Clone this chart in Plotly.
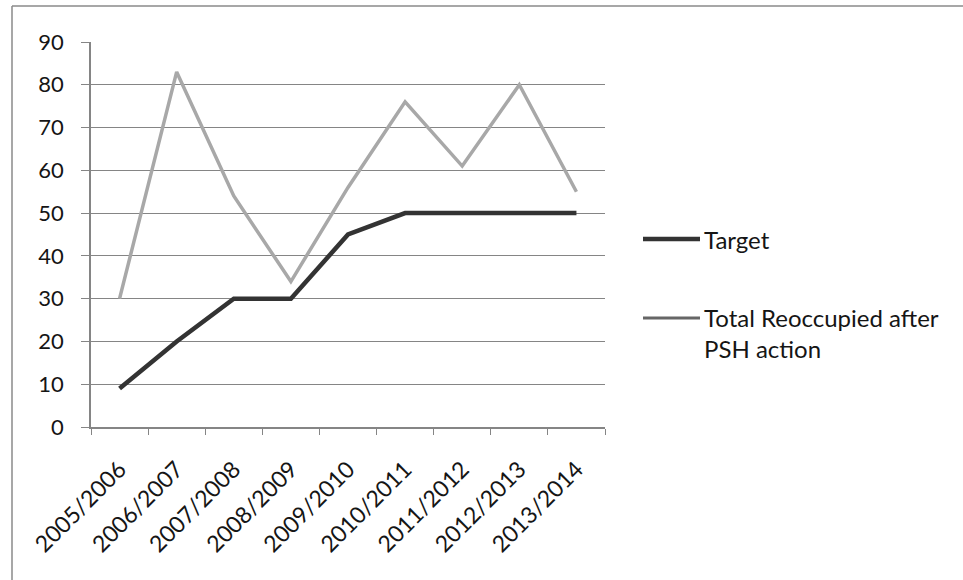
import plotly.graph_objects as go

categories = ["2005/2006", "2006/2007", "2007/2008", "2008/2009", "2009/2010",
              "2010/2011", "2011/2012", "2012/2013", "2013/2014"]
target = [9, 20, 30, 30, 45, 50, 50, 50, 50]
total_reoccupied = [30, 83, 54, 34, 56, 76, 61, 80, 55]
y_ticks = [0, 10, 20, 30, 40, 50, 60, 70, 80, 90]
series_names = ["Target", "Total Reoccupied after<br>PSH action"]

W, H = 963, 580
L, R, T, B = 91, 605, 42, 427  # plot area in pixels


def px(x):
    return (x - L) / (R - L)


def py(y):
    return (B - y) / (B - T)


FONT = "Lato"
TXT = "#151515"
GRID = "#858585"
C_TARGET = "#333333"
C_TOTAL = "#a8a8a8"

fig = go.Figure()
fig.add_trace(go.Scatter(
    x=categories, y=target, mode="lines", name=series_names[0],
    line=dict(color=C_TARGET, width=4.5), showlegend=False))
fig.add_trace(go.Scatter(
    x=categories, y=total_reoccupied, mode="lines", name=series_names[1],
    line=dict(color=C_TOTAL, width=3.5), showlegend=False))

# hand-placed legend (Excel style: long sample line, text to the right)
legend_rows = [(series_names[0], C_TARGET, 4.5, 239, 239),
               (series_names[1], "#666666", 3, 318, 333)]
shapes = [
    dict(type="line", xref="paper", yref="paper", x0=px(12), x1=px(963),
         y0=py(6), y1=py(6), line=dict(color="#8a8a8a", width=1.5)),
    dict(type="line", xref="paper", yref="paper", x0=px(12), x1=px(12),
         y0=py(6), y1=py(580), line=dict(color="#8a8a8a", width=1.5)),
]
annotations = []
for name, col, wid, ly, ty in legend_rows:
    shapes.append(dict(type="line", xref="paper", yref="paper",
                       x0=px(643), x1=px(700), y0=py(ly), y1=py(ly),
                       line=dict(color=col, width=wid)))
    annotations.append(dict(xref="paper", yref="paper", x=px(702), y=py(ty),
                            xanchor="left", yanchor="middle", align="left",
                            text=name, showarrow=False,
                            font=dict(family=FONT, size=24, color=TXT)))

fig.update_layout(
    width=W, height=H,
    margin=dict(l=L, r=W - R, t=T, b=H - B, pad=0),
    paper_bgcolor="white", plot_bgcolor="white",
    font=dict(family=FONT, size=22, color=TXT),
    shapes=shapes, annotations=annotations,
)
fig.update_xaxes(
    type="category", range=[-0.5, len(categories) - 0.5],
    tickangle=-45, tickson="boundaries",
    ticks="outside", ticklen=6, tickcolor=GRID, tickwidth=1,
    showline=True, linecolor=GRID, linewidth=1.5,
    showgrid=False, tickfont=dict(size=23), ticklabelstandoff=18,
)
fig.update_yaxes(
    range=[0, 90], tickvals=y_ticks, ticks="outside", ticklen=8,
    tickcolor=GRID, showline=True, linecolor=GRID, linewidth=1.5,
    showgrid=True, gridcolor=GRID, gridwidth=1.2, zeroline=False,
    tickfont=dict(size=22), ticklabelstandoff=13,
)

fig.write_html("out.html")
